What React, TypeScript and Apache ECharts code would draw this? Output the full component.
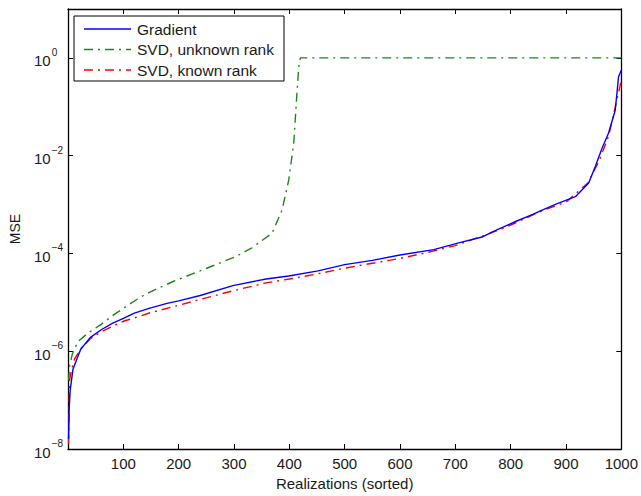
import React, { useEffect, useRef } from 'react';
import * as echarts from 'echarts';

const seriesNames = ['Gradient', 'SVD, unknown rank', 'SVD, known rank'];

const gradientX = [1, 2, 4, 9, 18, 23, 40, 60, 80, 100, 120, 148, 179, 200, 239, 298, 358, 399, 452, 500, 550, 600, 661, 708, 750, 768, 809, 840, 858, 882, 917, 941, 953, 965, 977, 989, 995, 1000];
const gradientY = [1.6e-8, 6.3e-8, 1.6e-7, 4.3e-7, 7.9e-7, 1.1e-6, 1.9e-6, 2.75e-6, 3.7e-6, 4.7e-6, 6.0e-6, 7.6e-6, 9.5e-6, 1.07e-5, 1.38e-5, 2.2e-5, 3.0e-5, 3.45e-5, 4.4e-5, 5.9e-5, 7.2e-5, 9.3e-5, 1.2e-4, 1.66e-4, 2.2e-4, 2.8e-4, 4.5e-4, 6.3e-4, 7.8e-4, 1.02e-3, 1.45e-3, 2.75e-3, 6.0e-3, 1.4e-2, 2.9e-2, 8.5e-2, 0.41, 0.56];

const unknownX = [1, 3, 8, 18, 35, 60, 83, 107, 130, 152, 191, 227, 262, 304, 333, 369, 387, 399, 408, 413, 417, 420, 1000];
const unknownY = [2.5e-7, 5.0e-7, 8.9e-7, 1.58e-6, 2.3e-6, 3.55e-6, 5.6e-6, 8.5e-6, 1.26e-5, 1.7e-5, 2.7e-5, 3.9e-5, 5.6e-5, 8.7e-5, 1.32e-4, 2.6e-4, 7.8e-4, 3.2e-3, 1.8e-2, 0.14, 0.66, 1, 1];

const knownX = [1, 2, 3, 6, 12, 23, 40, 60, 100, 120, 150, 200, 239, 300, 358, 400, 450, 500, 550, 600, 650, 700, 760, 800, 858, 900, 940, 960, 977, 990, 1000];
const knownY = [1.26e-8, 1.0e-7, 2.6e-7, 4.0e-7, 7.0e-7, 1.12e-6, 1.78e-6, 2.5e-6, 4.1e-6, 4.8e-6, 6.2e-6, 8.7e-6, 1.15e-5, 1.74e-5, 2.5e-5, 3.0e-5, 3.8e-5, 5.0e-5, 6.3e-5, 7.9e-5, 1.05e-4, 1.45e-4, 2.5e-4, 3.8e-4, 7.6e-4, 1.12e-3, 2.8e-3, 7.9e-3, 2.5e-2, 0.11, 0.35];

const xTickValues = [100, 200, 300, 400, 500, 600, 700, 800, 900, 1000];
const yTickExponents = [-8, -6, -4, -2, 0];

const FONT = '"Liberation Sans", Arial, Helvetica, sans-serif';
const TEXT = '#1a1a1a';
const DASH_DOT = [9, 5, 2, 5];
const COLORS = ['#0000ff', '#1a881a', '#ff0000'];
const DASHES: any[] = ['solid', DASH_DOT, DASH_DOT];

export default function App() {
  const ref = useRef<HTMLDivElement>(null);
  useEffect(() => {
    const chart = echarts.init(ref.current as HTMLDivElement, null, { renderer: 'svg' });
    const pair = (xs: number[], ys: number[]) => xs.map((x, i) => [x, ys[i]]);
    const axisLine = { show: true, onZero: false, lineStyle: { color: '#000', width: 1.3 } };
    const axisTick = { show: true, inside: true, length: 5, lineStyle: { color: '#000', width: 1 } };
    const yLabel = (v: number) => {
      const e = Math.round(Math.log10(v));
      if (!yTickExponents.includes(e)) return '';
      const s = e < 0 ? '\u2212' + String(-e) : String(e);
      return `{b|10}{s|${s}}`;
    };
    const line = (i: number, xs: number[], ys: number[], z: number) => ({
      name: seriesNames[i],
      type: 'line',
      data: pair(xs, ys),
      symbol: 'none',
      showSymbol: false,
      xAxisIndex: 0,
      yAxisIndex: 0,
      color: COLORS[i],
      lineStyle: { color: COLORS[i], width: 1.4, type: DASHES[i] },
      z,
    });
    const legendRows = [29, 49.5, 70];
    const legendGraphics: any[] = [
      {
        type: 'rect',
        shape: { x: 74, y: 16, width: 210, height: 65 },
        style: { fill: '#fff', stroke: '#000', lineWidth: 1 },
        z: 10,
      },
    ];
    seriesNames.forEach((n, i) => {
      legendGraphics.push({
        type: 'line',
        shape: { x1: 84, y1: legendRows[i], x2: 131, y2: legendRows[i] },
        style: {
          stroke: COLORS[i],
          lineWidth: 1.4,
          lineDash: i === 0 ? null : DASH_DOT,
        },
        z: 11,
      });
      legendGraphics.push({
        type: 'text',
        x: 137,
        y: legendRows[i],
        style: {
          text: n,
          font: `15.5px ${FONT}`,
          fill: TEXT,
          textVerticalAlign: 'middle',
          verticalAlign: 'middle',
        },
        z: 11,
      });
    });
    chart.setOption({
      animation: false,
      grid: { left: 67, right: 15, top: 9, bottom: 45, containLabel: false },
      graphic: legendGraphics,
      xAxis: [
        {
          type: 'value',
          min: 0,
          max: 1000,
          interval: 100,
          position: 'bottom',
          axisLine,
          axisTick,
          splitLine: { show: false },
          axisLabel: {
            formatter: (v: number) => (xTickValues.includes(v) ? String(v) : ''),
            fontSize: 15,
            fontFamily: FONT,
            color: TEXT,
            margin: 7,
          },
          name: 'Realizations (sorted)',
          nameLocation: 'middle',
          nameGap: 27,
          nameTextStyle: { fontSize: 15, fontFamily: FONT, color: TEXT },
        },
        {
          type: 'value',
          min: 0,
          max: 1000,
          interval: 100,
          position: 'top',
          axisLine,
          axisTick,
          splitLine: { show: false },
          axisLabel: { show: false },
        },
      ],
      yAxis: [
        {
          type: 'log',
          logBase: 10,
          min: 1e-8,
          max: 10,
          interval: 2,
          position: 'left',
          axisLine,
          axisTick,
          minorTick: { show: false },
          splitLine: { show: false },
          axisLabel: {
            formatter: yLabel,
            align: 'left',
            margin: 34,
            color: TEXT,
            rich: {
              b: { fontSize: 15, fontFamily: FONT, color: TEXT, lineHeight: 21, verticalAlign: 'bottom' },
              s: { fontSize: 10, fontFamily: FONT, color: TEXT, lineHeight: 12, verticalAlign: 'top', padding: [0, 0, 0, 1] },
            },
          },
          name: 'MSE',
          nameLocation: 'middle',
          nameGap: 46,
          nameRotate: 90,
          nameTextStyle: { fontSize: 14, fontFamily: FONT, color: TEXT },
        },
        {
          type: 'log',
          logBase: 10,
          min: 1e-8,
          max: 10,
          interval: 2,
          position: 'right',
          axisLine,
          axisTick,
          minorTick: { show: false },
          splitLine: { show: false },
          axisLabel: { show: false },
        },
      ],
      series: [
        line(0, gradientX, gradientY, 3),
        line(1, unknownX, unknownY, 2),
        line(2, knownX, knownY, 2),
      ],
    });
    return () => chart.dispose();
  }, []);
  return <div ref={ref} style={{ position: 'absolute', left: 0, top: 0, width: 641, height: 496, background: '#fff' }} />;
}
